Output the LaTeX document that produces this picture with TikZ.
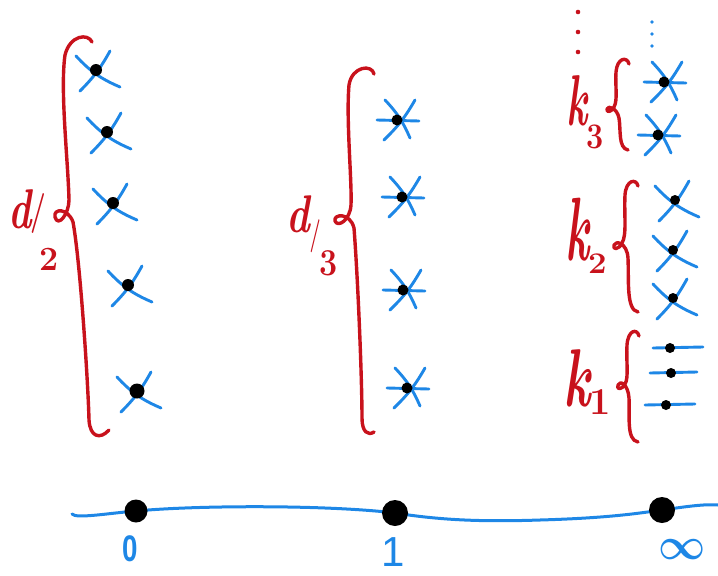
\documentclass[tikz,border=0pt]{standalone}
\usepackage{fontspec}
\newfontfamily\hsans{Liberation Sans}
\definecolor{pred}{RGB}{200,18,28}
\definecolor{pblue}{RGB}{30,135,230}
\tikzset{
  bl/.style={draw=pblue, line width=2.9pt, line cap=round},
  rd/.style={draw=pred, line width=3.4pt, line cap=round, line join=round},
  dot/.style={circle, fill=black, inner sep=0pt, minimum size=#1},
  dot/.default=12pt,
  lbl/.style={text=pred, inner sep=0pt, anchor=base west, font=\bfseries},
  axl/.style={text=pblue, inner sep=0pt}
}
\newcommand\xcross[4][12pt]{%
 \begin{scope}[shift={(#3,#4)}]
  \draw[bl] (-20,-14) to[bend right=12] (24,17);
  \draw[bl] (14,-19) to[bend left=8] (-16,21);
  \node[dot=#1] (#2) at (0,0) {};
 \end{scope}}
\newcommand\xstar[3]{%
 \begin{scope}[shift={(#2,#3)}]
  \draw[bl] (-20,0) -- (22,1);
  \draw[bl] (-12,-20) to[bend left=10] (13,18);
  \draw[bl] (18,-20) to[bend left=8] (-13,20);
  \node[dot=11pt] (#1) at (0,0) {};
 \end{scope}}
\newcommand\xline[5]{%
 \begin{scope}[shift={(#2,#3)}]
  \draw[bl] (#4,0) -- (#5,-1);
  \node[dot=10pt] (#1) at (0,0) {};
 \end{scope}}
\newcommand\fs[1]{\fontsize{#1}{#1}\selectfont}
\begin{document}
\begin{tikzpicture}[x=1pt,y=-1pt]
\useasboundingbox (0,0) rectangle (718,576);

% ---------- left column ----------
\draw[rd] (92,42) .. controls (88,33) and (70,35) .. (65,55)
  .. controls (60,90) and (68,160) .. (69,200)
  .. controls (69,214) and (58,228) .. (55,217)
  .. controls (53,208) and (68,208) .. (73,222)
  .. controls (80,260) and (88,380) .. (89,420)
  .. controls (90,437) and (100,440) .. (109,430);
\node[lbl] (d2) at (8,228) {\fs{56}\scalebox{0.7}[1]{\itshape d}\kern-1pt\raisebox{5pt}{\fs{40}\scalebox{0.7}[1]{/}}\kern-7pt\raisebox{-42pt}{\fs{34}2}};
\xcross{a1}{96}{70}
\xcross{a2}{107}{132}
\xcross{a3}{113}{203}
\xcross{a4}{128}{285}
\xcross[15pt]{a5}{137}{391}

% ---------- middle column ----------
\draw[rd] (374,74) .. controls (372,64) and (352,66) .. (349,85)
  .. controls (346,120) and (352,180) .. (351,205)
  .. controls (350,220) and (338,228) .. (335,221)
  .. controls (333,214) and (350,212) .. (354,228)
  .. controls (358,280) and (362,380) .. (362,418)
  .. controls (362,432) and (368,436) .. (374,432);
\node[lbl] (d3) at (286,232) {\fs{53}\scalebox{0.75}[1]{\itshape d}\kern0pt\raisebox{-12pt}{\fs{33}\scalebox{0.6}[1]{/}}\kern-1pt\raisebox{-43pt}{\fs{38}\scalebox{0.85}[1]{3}}};
\xstar{b1}{397}{120}
\xstar{b2}{402}{197}
\xstar{b3}{403}{290}
\xstar{b4}{407}{388}

% ---------- right column ----------
\foreach \yy/\nm in {12/r1,32/r2,52/r3} \fill[pred] (578,\yy) circle (2.3pt);
\foreach \yy/\nm in {22/s1,34/s2,46/s3} \fill[pblue] (652,\yy) circle (1.8pt);

\draw[rd] (629,64) .. controls (627,56) and (617,58) .. (616,72)
  .. controls (615,85) and (618,100) .. (614,107)
  .. controls (612,112) and (606,113) .. (607,109)
  .. controls (608,105) and (617,108) .. (619,118)
  .. controls (621,130) and (618,148) .. (628,150);
\node[lbl] (k3) at (566,125) {\fs{72}\scalebox{0.55}[1]{\itshape k}\kern-1pt\raisebox{-23pt}{\fs{36}\scalebox{0.85}[1]{3}}};
\xstar{c1}{664}{82}
\xstar{c2}{658}{135}

\draw[rd] (638,186) .. controls (636,178) and (626,180) .. (625,195)
  .. controls (624,215) and (627,235) .. (622,243)
  .. controls (619,250) and (612,250) .. (614,245)
  .. controls (616,240) and (627,243) .. (628,258)
  .. controls (629,280) and (626,310) .. (638,312);
\node[lbl] (k2) at (565,260) {\fs{90}\scalebox{0.5}[1]{\itshape k}\kern-1pt\raisebox{-13pt}{\fs{30}\scalebox{1.1}[1]{2}}};
\xcross[10pt]{e1}{675}{200}
\xcross[10pt]{e2}{673}{250}
\xcross[10pt]{e3}{673}{298}

\draw[rd] (639,336) .. controls (637,328) and (628,330) .. (627,345)
  .. controls (626,360) and (629,378) .. (625,384)
  .. controls (622,390) and (616,390) .. (618,385)
  .. controls (620,380) and (628,384) .. (629,398)
  .. controls (630,415) and (626,440) .. (638,442);
\node[lbl] (k1) at (563,406) {\fs{82}\scalebox{0.62}[1]{\itshape k}\kern-1pt\raisebox{-8pt}{\fs{38}1}};
\xline{f1}{670}{348}{-17}{33}
\xline{f2}{671}{373}{-21}{26}
\xline{f3}{666}{405}{-21}{29}

% ---------- bottom line ----------
\draw[bl, line width=3pt] (72,514) .. controls (76,519) and (110,513) .. (136,511)
  .. controls (200,505) and (330,505) .. (395,513)
  .. controls (440,520) and (480,522) .. (540,520)
  .. controls (610,518) and (640,513) .. (662,510)
  .. controls (690,506) and (705,504) .. (718,505);
\node[circle, fill=black, inner sep=0pt, minimum width=19pt, minimum height=23pt] (p0) at (136,511) {};
\node[circle, fill=black, inner sep=0pt, minimum width=22pt, minimum height=26pt] (p1) at (395,513) {};
\node[circle, fill=black, inner sep=0pt, minimum width=24pt, minimum height=26pt] (p2) at (662,510) {};
\node[axl, font=\hsans\bfseries\fs{37}] (l0) at (130,549) {\scalebox{0.75}[1]{0}};
\node[axl, font=\hsans\fs{42}] (l1) at (393,552) {1};
\node[axl, font=\fs{24}] (l2) at (682,550) {\scalebox{1.65}[1.8]{\mathversion{bold}$\infty$}};
\end{tikzpicture}
\end{document}
